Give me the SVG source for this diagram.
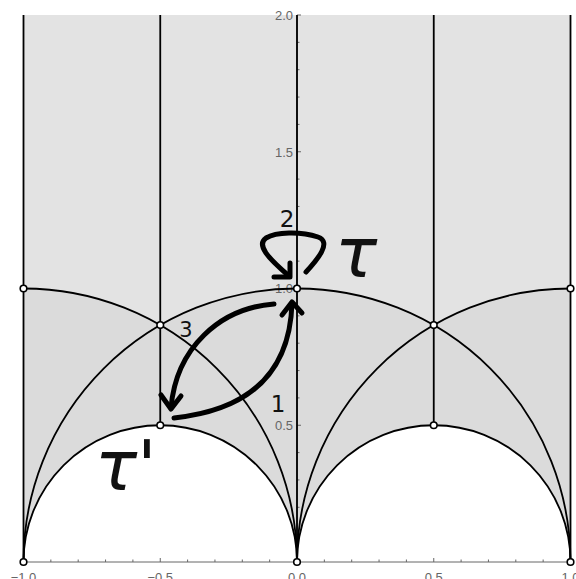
<svg xmlns="http://www.w3.org/2000/svg" width="576" height="579" viewBox="0 0 576 579">
<style>
.ln{fill:none;stroke:#000;stroke-width:1.8}
.ax{fill:none;stroke:#666;stroke-width:1}
.tk{font-family:"Liberation Sans",Arial,sans-serif;font-size:13px;fill:#666}
.mk{fill:#fff;stroke:#000;stroke-width:1.6}
.ar{fill:none;stroke:#000;stroke-width:5;stroke-linecap:round;stroke-linejoin:round}
.hw{font-family:"DejaVu Sans",sans-serif;fill:#111}
</style>
<defs>
<clipPath id="plot"><rect x="23.5" y="15" width="547" height="547"/></clipPath>
</defs>
<rect width="576" height="579" fill="#fff"/>
<g id="regions" clip-path="url(#plot)">
<rect x="23.5" y="15" width="547" height="547" fill="#e3e3e3"/>
<g fill="#dbdbdb">
<circle cx="297" cy="562" r="273.5"/>
<circle cx="23.5" cy="562" r="273.5"/>
<circle cx="570.5" cy="562" r="273.5"/>
</g>
<g fill="#fff">
<circle cx="160.25" cy="562" r="136.75"/>
<circle cx="433.75" cy="562" r="136.75"/>
</g>
</g>
<g id="axes">
<line class="ax" x1="23.5" y1="562" x2="570.5" y2="562"/>
<line class="ax" x1="297" y1="15" x2="297" y2="562"/>
<path class="ax" d="M23.5,562v-4M50.85,562v-2.5M78.2,562v-2.5M105.55,562v-2.5M132.9,562v-2.5M160.25,562v-4M187.6,562v-2.5M214.95,562v-2.5M242.3,562v-2.5M269.65,562v-2.5M297,562v-4M324.35,562v-2.5M351.7,562v-2.5M379.05,562v-2.5M406.4,562v-2.5M433.75,562v-4M461.1,562v-2.5M488.45,562v-2.5M515.8,562v-2.5M543.15,562v-2.5M570.5,562v-4"/>
<path class="ax" d="M297,534.65h2.5M297,507.3h2.5M297,479.95h2.5M297,452.6h2.5M297,425.25h4M297,397.9h2.5M297,370.55h2.5M297,343.2h2.5M297,315.85h2.5M297,288.5h4M297,261.15h2.5M297,233.8h2.5M297,206.45h2.5M297,179.1h2.5M297,151.75h4M297,124.4h2.5M297,97.05h2.5M297,69.7h2.5M297,42.35h2.5M297,15h4"/>
<g class="tk" text-anchor="end">
<text x="293" y="19.5">2.0</text>
<text x="293" y="156.5">1.5</text>
<text x="293" y="293">1.0</text>
<text x="293" y="430">0.5</text>
</g>
<g class="tk" text-anchor="middle">
<text x="23.5" y="582">−1.0</text>
<text x="160.25" y="582">−0.5</text>
<text x="297" y="582">0.0</text>
<text x="433.75" y="582">0.5</text>
<text x="570.5" y="582">1.0</text>
</g>
</g>
<g id="connectors">
<line class="ln" x1="23.5" y1="15" x2="23.5" y2="562"/>
<line class="ln" x1="570.5" y1="15" x2="570.5" y2="562"/>
<line class="ln" x1="297" y1="15" x2="297" y2="562"/>
<line class="ln" x1="160.25" y1="15" x2="160.25" y2="425.25"/>
<line class="ln" x1="433.75" y1="15" x2="433.75" y2="425.25"/>
<path class="ln" d="M23.5,562A273.5,273.5 0 0 1 570.5,562"/>
<path class="ln" d="M23.5,288.5A273.5,273.5 0 0 1 297,562"/>
<path class="ln" d="M297,562A273.5,273.5 0 0 1 570.5,288.5"/>
<path class="ln" d="M23.5,562A136.75,136.75 0 0 1 297,562"/>
<path class="ln" d="M297,562A136.75,136.75 0 0 1 570.5,562"/>
</g>
<g id="nodes">
<circle id="n-m1-1" class="mk" cx="23.5" cy="288.5" r="3.3"/>
<circle id="n-1-1" class="mk" cx="570.5" cy="288.5" r="3.3"/>
<circle id="n-rho" class="mk" cx="160.25" cy="325.1" r="3.3"/>
<circle id="n-rho2" class="mk" cx="433.75" cy="325.1" r="3.3"/>
<circle id="n-i" class="mk" cx="297" cy="288.5" r="3.3"/>
<circle id="n-m05" class="mk" cx="160.25" cy="425.25" r="3.3"/>
<circle id="n-05" class="mk" cx="433.75" cy="425.25" r="3.3"/>
<circle id="n-0" class="mk" cx="297" cy="562" r="3.3"/>
<circle id="n-m1" class="mk" cx="23.5" cy="562" r="3.3"/>
<circle id="n-1" class="mk" cx="570.5" cy="562" r="3.3"/>
</g>
<g id="annotations">
<path class="ar" d="M306,272C318,259 332,242 318,237C300,231 276,232 266,238C256,245 268,258 289,276"/>
<path class="ar" d="M274,277H290V263"/>
<path class="ar" d="M274,304C220,308 176,348 171,408"/>
<path class="ar" d="M161,395L171,409L181,396"/>
<path class="ar" d="M174,418C250,410 290,372 292,303"/>
<path class="ar" d="M282,315L292,302L302,313"/>
<text class="hw" x="287" y="227" font-size="23" text-anchor="middle">2</text>
<text class="hw" x="186" y="337" font-size="21" text-anchor="middle">3</text>
<text class="hw" x="278" y="412" font-size="23" text-anchor="middle">1</text>
<text class="hw" x="356" y="277" font-size="70" font-style="italic" text-anchor="middle">τ</text>
<text class="hw" x="95" y="490" font-size="70" font-style="italic">τ'</text>
</g>
</svg>
